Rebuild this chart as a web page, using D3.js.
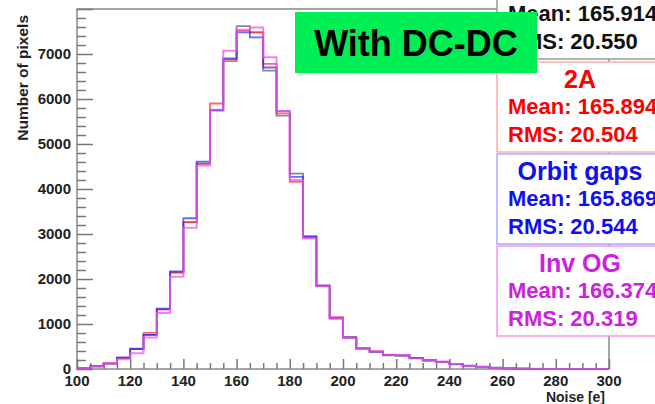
<!DOCTYPE html>
<html>
<head>
<meta charset="utf-8">
<script src="https://cdn.jsdelivr.net/npm/d3@7"></script>
<style>
  body { margin: 0; background: #fff; }
  svg { display: block; font-family: "Liberation Sans", Arial, sans-serif; font-weight: bold; }
</style>
</head>
<body>
<div id="chart"></div>
<script>
// bin low edges, 5 e wide, 100..295
const binEdges = d3.range(100, 300, 5);

// first box title is above the picture edge in the original, so left blank
const seriesNames = ['', '2A', 'Orbit gaps', 'Inv OG'];
const seriesColors = ['#555555', '#ff2a2a', '#2a2aff', '#ee55ee'];
const textColors = ['#111111', '#ff0000', '#1010ee', '#cc22dd'];
const borderColors = ['#999999', '#ffaaaa', '#aaaaff', '#ee99ee'];
const seriesMeans = ['165.914', '165.894', '165.869', '166.374'];
const seriesRms = ['20.550', '20.504', '20.544', '20.319'];

const countsRef = [20, 60, 120, 250, 445, 760, 1330, 2140, 3265, 4570, 5750, 6880, 7620, 7480, 6630, 5630, 4340, 2930, 1850, 1120,
  700, 460, 385, 305, 300, 245, 190, 160, 110, 70, 48, 25, 15, 8, 4, 2, 1, 0, 0, 0];
const counts2A = [20, 60, 130, 245, 440, 805, 1320, 2150, 3260, 4560, 5900, 6840, 7520, 7480, 6780, 5680, 4160, 2920, 1850, 1150,
  700, 455, 390, 315, 310, 240, 185, 165, 105, 68, 46, 22, 14, 8, 4, 2, 1, 0, 0, 0];
const countsOrbit = [15, 65, 120, 250, 450, 760, 1340, 2170, 3350, 4610, 5750, 6900, 7480, 7370, 6700, 5730, 4270, 2950, 1850, 1130,
  700, 460, 380, 310, 300, 245, 195, 160, 110, 72, 50, 28, 15, 10, 5, 2, 1, 0, 0, 0];
const countsInvOG = [15, 55, 115, 215, 350, 700, 1245, 2050, 3140, 4520, 5760, 7070, 7540, 7590, 6930, 5730, 4200, 2900, 1840, 1120,
  690, 445, 395, 315, 310, 235, 185, 160, 110, 65, 45, 20, 12, 6, 3, 1, 0, 0, 0, 0];
const allCounts = [countsRef, counts2A, countsOrbit, countsInvOG];

const xTicks = d3.range(100, 301, 20);
const yTicks = d3.range(0, 7001, 1000);

const width = 655, height = 404;
const margin = { left: 77, top: 9, right: 46, bottom: 35 };
const x0 = margin.left, x1 = width - margin.right;
const y0 = height - margin.bottom, y1 = margin.top;

const svg = d3.select('#chart').append('svg')
  .attr('width', width)
  .attr('height', height);

const x = d3.scaleLinear().domain([100, 300]).range([x0, x1]);
const y = d3.scaleLinear().domain([0, 8000]).range([y0, y1]);

// frame
svg.append('rect')
  .attr('x', x0).attr('y', y1)
  .attr('width', x1 - x0).attr('height', y0 - y1)
  .attr('fill', 'none')
  .attr('stroke', '#888')
  .attr('stroke-width', 1.5);

// y axis ticks (inside the frame, ROOT style)
const yAxis = d3.axisRight(y)
  .tickValues(d3.range(0, 8001, 200))
  .tickSize(0)
  .tickFormat('');
const yg = svg.append('g').attr('transform', `translate(${x0},0)`).call(yAxis);
yg.select('.domain').remove();
yg.selectAll('.tick line')
  .attr('x2', d => d % 1000 === 0 ? 16 : 9)
  .attr('stroke', '#777')
  .attr('stroke-width', 1.5);
svg.append('g').selectAll('text')
  .data(yTicks)
  .join('text')
  .attr('x', x0 - 6)
  .attr('y', d => y(d) + 5)
  .attr('text-anchor', 'end')
  .attr('font-size', 15)
  .attr('fill', '#222')
  .text(d => d);

// x axis ticks
const xAxis = d3.axisTop(x)
  .tickValues(d3.range(100, 301, 5))
  .tickSize(0)
  .tickFormat('');
const xg = svg.append('g').attr('transform', `translate(0,${y0})`).call(xAxis);
xg.select('.domain').remove();
xg.selectAll('.tick line')
  .attr('y2', d => d % 20 === 0 ? -10 : -6)
  .attr('stroke', '#777')
  .attr('stroke-width', 1.5);
svg.append('g').selectAll('text')
  .data(xTicks)
  .join('text')
  .attr('x', d => x(d))
  .attr('y', y0 + 17)
  .attr('text-anchor', 'middle')
  .attr('font-size', 15)
  .attr('fill', '#222')
  .text(d => d);

// axis titles
svg.append('text')
  .attr('x', x1 - 4)
  .attr('y', height - 2)
  .attr('text-anchor', 'end')
  .attr('font-size', 14)
  .attr('fill', '#222')
  .text('Noise [e]');
svg.append('text')
  .attr('transform', 'translate(28,15) rotate(-90)')
  .attr('text-anchor', 'end')
  .attr('font-size', 15.5)
  .attr('fill', '#222')
  .text('Number of pixels');

// histograms as step outlines
function stepPath(counts) {
  const p = d3.path();
  p.moveTo(x(binEdges[0]), y(0));
  counts.forEach((c, i) => {
    p.lineTo(x(binEdges[i]), y(c));
    p.lineTo(x(binEdges[i] + 5), y(c));
  });
  p.lineTo(x(300), y(0));
  return p.toString();
}

svg.append('g').selectAll('path')
  .data(allCounts)
  .join('path')
  .attr('d', d => stepPath(d))
  .attr('fill', 'none')
  .attr('stroke', (d, i) => seriesColors[i])
  .attr('stroke-width', (d, i) => i === 3 ? 2 : 1.8)
  .attr('stroke-opacity', (d, i) => i === 3 ? 0.75 : 0.7);

// stat boxes
const boxTops = [-31, 62, 154, 246];
const boxLeft = 497, boxWidth = 166, boxHeight = 90;
const boxes = svg.append('g').selectAll('g')
  .data(seriesNames)
  .join('g')
  .attr('transform', (d, i) => `translate(${boxLeft},${boxTops[i]})`);
boxes.append('rect')
  .attr('width', boxWidth).attr('height', boxHeight)
  .attr('fill', '#fff')
  .attr('stroke', (d, i) => borderColors[i])
  .attr('stroke-width', 1.5);
boxes.filter(d => d !== '').append('text')
  .attr('x', 83).attr('y', 26)
  .attr('text-anchor', 'middle')
  .attr('font-size', 25)
  .attr('fill', (d, i) => textColors[seriesNames.indexOf(d)])
  .text(d => d);
boxes.append('text')
  .attr('x', 11).attr('y', 52)
  .attr('font-size', 22)
  .attr('fill', (d, i) => textColors[i])
  .text((d, i) => 'Mean: ' + seriesMeans[i]);
boxes.append('text')
  .attr('x', 11).attr('y', 80)
  .attr('font-size', 22)
  .attr('fill', (d, i) => textColors[i])
  .text((d, i) => 'RMS: ' + seriesRms[i]);

// title label
svg.append('rect')
  .attr('x', 295).attr('y', 12)
  .attr('width', 242).attr('height', 61)
  .attr('fill', '#00ee55');
svg.append('text')
  .attr('x', 416).attr('y', 56)
  .attr('text-anchor', 'middle')
  .attr('font-size', 36)
  .attr('fill', '#000')
  .text('With DC-DC');
</script>
</body>
</html>
